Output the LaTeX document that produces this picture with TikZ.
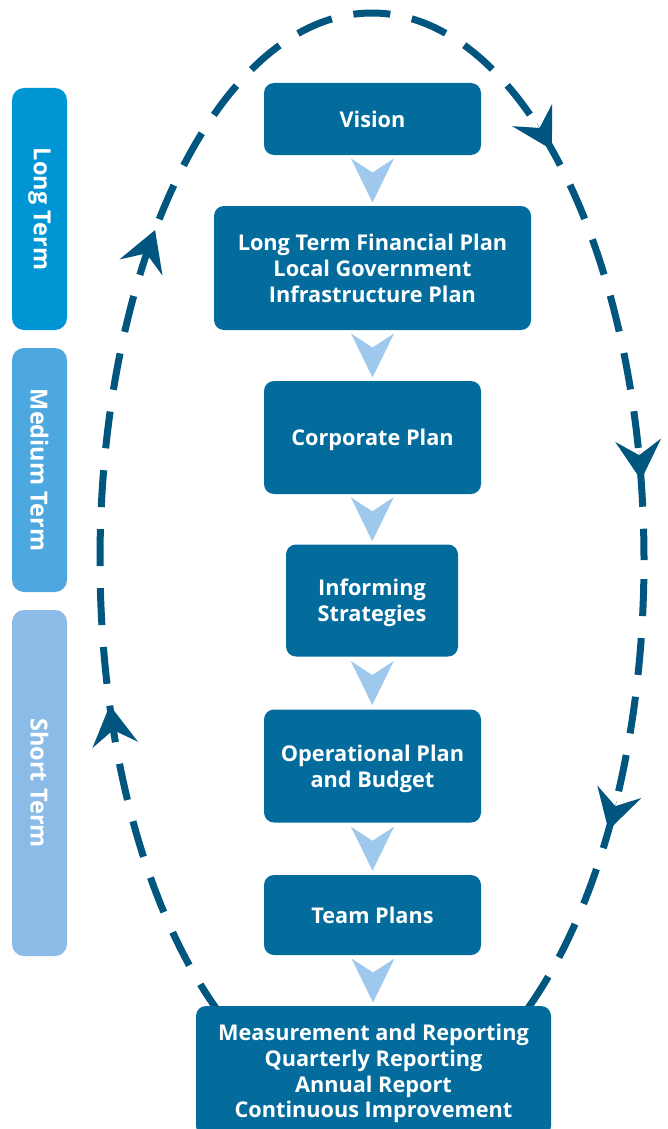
\documentclass[tikz,border=0pt]{standalone}
\usepackage{fontspec}
\setmainfont{Open Sans}
\usetikzlibrary{arrows.meta,calc}
\definecolor{boxc}{HTML}{036C9C}
\definecolor{ringc}{HTML}{00567E}
\definecolor{chevc}{HTML}{9FC9EC}
\definecolor{longc}{HTML}{0096D6}
\definecolor{medc}{HTML}{4DA8E0}
\definecolor{shortc}{HTML}{8ABCE7}
\tikzset{
 box/.style={fill=boxc, rounded corners=10pt, text=white, font=\bfseries\fontsize{21.7}{25.8}\selectfont, align=center, inner sep=0pt, text depth=0pt},
 bar/.style={rounded corners=12pt, text=white, font=\bfseries\fontsize{23.5}{28}\selectfont, rotate=-90, inner sep=0pt, minimum height=55pt},
 ring/.style={draw=ringc, line width=7pt, dash pattern=on 37pt off 22pt, dash phase=39.9pt},
 ringarrow/.style={draw=ringc, fill=ringc, line width=0.01pt, -{Stealth[length=40pt,width=46pt,inset=15pt,line width=0pt]}},
 pics/chev/.style={code={\fill[chevc] (-21.5,-22) -- (0,-8) -- (21.5,-22) -- (0,22) -- cycle;}},
}
\begin{document}
\begin{tikzpicture}[x=1pt,y=-1pt]
\useasboundingbox (0,0) rectangle (667,1129);
\clip (0,0) rectangle (667,1129);
\fill[white] (0,0) rectangle (667,1129);
% cycle ring
\draw[ring] (372,560) ellipse [x radius=272, y radius=547];
\foreach \t in {-48.6,-8.4,29.6,164.6,217.1} {
  \pgfmathsetmacro{\tl}{100*sqrt((2.72*sin(\t))^2+(5.47*cos(\t))^2)}
  \pgfmathsetmacro{\sx}{272*sin(\t)*30/\tl}
  \pgfmathsetmacro{\sy}{547*cos(\t)*30/\tl}
  \coordinate (tip) at ({372+272*cos(\t)},{560+547*sin(\t)});
  \coordinate (tail) at ({372+272*cos(\t)+\sx},{560+547*sin(\t)-\sy});
  \draw[ringarrow] (tail) -- (tip);
}
% side bars
\node[bar, fill=longc, minimum width=242pt] (long) at (39.5,209) {Long Term};
\node[bar, fill=medc, minimum width=244pt] (medium) at (39.5,470) {Medium Term};
\node[bar, fill=shortc, minimum width=346pt] (short) at (39.5,783) {Short Term};
% boxes
\node[box, minimum width=217pt, minimum height=72pt] (vision) at (372.5,119) {Vision};
\node[box, minimum width=317pt, minimum height=124pt] (ltfp) at (372.5,268) {Long Term Financial Plan\\Local Government\\Infrastructure Plan};
\node[box, minimum width=217pt, minimum height=113pt] (corp) at (372.5,437.5) {Corporate Plan};
\node[box, minimum width=172pt, minimum height=112pt] (inform) at (372,600.5) {Informing\\Strategies};
\node[box, minimum width=217pt, minimum height=113pt] (oper) at (372.5,766) {Operational Plan\\and Budget};
\node[box, minimum width=217pt, minimum height=80pt] (team) at (372.5,915) {Team Plans};
\node[box, minimum width=355pt, minimum height=130pt] (meas) at (373.5,1071) {Measurement and Reporting\\Quarterly Reporting\\Annual Report\\Continuous Improvement};
% chevrons
\foreach \a/\b/\n in {vision/ltfp/1, ltfp/corp/2, corp/inform/3, inform/oper/4, oper/team/5, team/meas/6} {
  \path (\a.south) -- (\b.north) coordinate[midway] (chev\n);
  \pic at (chev\n) {chev};
}
\end{tikzpicture}
\end{document}
